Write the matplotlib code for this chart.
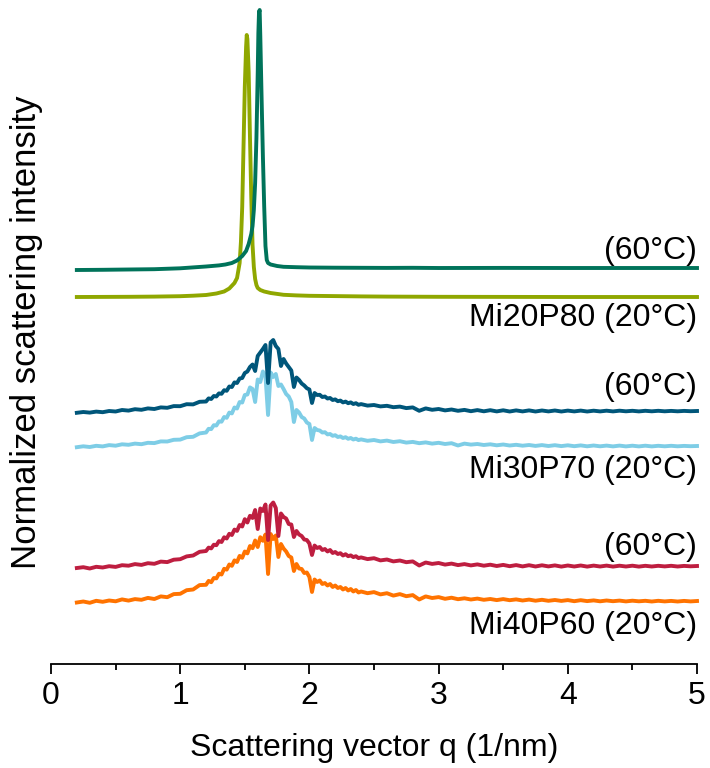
import numpy as np
import matplotlib
matplotlib.use("Agg")
import matplotlib.pyplot as plt
from matplotlib.ticker import MultipleLocator

plt.rcParams['font.family'] = ['Liberation Sans', 'DejaVu Sans']

# ---------------- data ----------------
# common q grid for the broad (noisy) curves, 1/nm
q_broad = np.round(np.concatenate([np.arange(0.20, 1.19, 0.05),
                                   np.arange(1.20, 2.39, 0.02),
                                   np.arange(2.40, 5.001, 0.05)]), 3)

# Mi40P60 20 C (orange), intensity above its own baseline (a.u.)
mi40p60_20 = [-1.5, -0.5, -1.8, 0.2, -0.8, 0.5, -0.3, 1.6, 0.4, 1.9, 1.2, 3.1, 2.0, 4.6, 3.8, 6.9, 7.2, 10.8, 11.5, 15.9,
              16.2, 20.1, 18.8, 23.0, 22.6, 27.3, 26.5, 32.2, 31.4, 36.5,
              35.2, 40.6, 39.0, 45.1, 43.2, 49.5, 47.6, 55.0, 52.8, 60.5,
              54.0, 63.8, 60.2, 66.5, 27.0, 67.0, 62.0, 65.5, 44.0, 57.0,
              52.5, 49.5, 45.0, 43.5, 30.0, 37.0, 32.5, 32.0, 28.0, 28.5,
              24.0, 9.0, 21.5, 19.0, 20.5, 17.0, 18.0, 15.5, 17.0, 14.0,
              15.5, 13.0, 14.0, 11.5, 13.0, 10.5, 12.0, 9.5, 11.0, 8.5,
              9.5, 7.8, 8.9, 6.6, 7.8, 5.4, 6.9, 4.8, 5.9, 1.5,
              4.6, 3.0, 3.9, 2.2, 3.3, 1.8, 2.7, 1.5, 2.4, 1.2,
              2.0, 0.9, 1.9, 0.8, 1.6, 0.5, 1.4, 0.3, 1.2, 0.2,
              1.0, 0.1, 0.9, -0.2, 0.8, -0.1, 0.6, -0.3, 0.5, -0.2,
              0.4, -0.4, 0.3, -0.3, 0.2, -0.5, 0.2, -0.4, 0.1, -0.5,
              0.1, -0.4, 0.0]

# Mi40P60 60 C (crimson)
mi40p60_60 = [-2.0, -1.2, -2.5, -0.8, -1.5, -0.2, -0.9, 0.8, 0.3, 1.9, 1.1, 2.8, 2.2, 4.4, 3.9, 6.3, 6.8, 9.6, 10.5, 14.2,
              15.0, 18.4, 17.6, 21.3, 20.8, 24.9, 24.0, 28.7, 27.5, 32.2,
              31.0, 36.4, 35.1, 41.0, 39.5, 46.8, 43.5, 50.2, 48.0, 56.0,
              37.0, 57.5, 55.0, 61.5, 26.0, 60.5, 63.5, 58.0, 30.0, 52.5,
              49.0, 47.5, 42.0, 41.5, 29.0, 35.0, 31.5, 30.0, 26.5, 26.0,
              22.5, 11.0, 20.5, 18.0, 19.0, 16.0, 17.0, 14.5, 16.0, 13.0,
              14.0, 12.0, 12.8, 10.5, 11.8, 9.8, 10.6, 8.9, 9.8, 7.9,
              8.6, 6.9, 7.8, 5.6, 6.5, 4.6, 5.5, 3.8, 4.6, 0.5,
              3.5, 2.1, 3.0, 1.4, 2.4, 0.9, 1.9, 0.6, 1.6, 0.3,
              1.3, 0.0, 1.1, -0.2, 0.9, -0.4, 0.8, -0.5, 0.7, -0.4,
              0.6, -0.6, 0.5, -0.5, 0.5, -0.6, 0.4, -0.5, 0.4, -0.6,
              0.3, -0.5, 0.3, -0.6, 0.2, -0.5, 0.2, -0.4, 0.2, -0.5,
              0.1, -0.3, 0.0]

# Mi30P70 20 C (light blue)
mi30p70_20 = [-1.2, -0.3, -1.0, 0.2, -0.4, 0.9, 0.3, 1.7, 1.2, 2.4, 1.8, 3.2, 2.9, 4.6, 4.5, 6.2, 6.4, 8.8, 9.2, 12.6,
              13.5, 17.2, 16.9, 20.8, 20.5, 24.6, 24.3, 29.0, 28.2, 33.4,
              32.6, 38.5, 37.5, 44.0, 43.5, 51.0, 51.5, 58.6, 57.0, 44.0,
              66.5, 64.0, 74.5, 70.0, 31.0, 73.5, 69.0, 72.0, 60.0, 61.5,
              57.0, 52.0, 49.5, 44.0, 24.0, 36.0, 33.5, 29.0, 27.5, 23.5,
              22.0, 6.0, 18.0, 16.0, 15.5, 13.5, 13.8, 11.6, 12.0, 10.2,
              10.8, 9.0, 9.6, 8.0, 8.8, 7.2, 8.0, 6.5, 7.3, 5.9,
              6.6, 5.2, 6.0, 4.6, 5.4, 4.0, 4.8, 3.4, 4.1, 2.8,
              3.6, 2.4, 3.2, 2.0, 2.8, 0.5, 2.4, 1.4, 2.0, 1.0,
              1.7, 0.7, 1.5, 0.5, 1.2, 0.3, 1.0, 0.1, 0.9, 0.0,
              0.8, -0.1, 0.7, -0.2, 0.6, -0.3, 0.5, -0.3, 0.4, -0.4,
              0.4, -0.4, 0.3, -0.4, 0.3, -0.4, 0.2, -0.3, 0.2, -0.3,
              0.1, -0.2, 0.0]

# Mi30P70 60 C (dark blue)
mi30p70_60 = [-1.8, -1.0, -1.6, -0.6, -1.2, 0.0, -0.5, 1.0, 0.4, 1.8, 1.2, 2.6, 2.0, 3.6, 3.2, 4.9, 4.8, 6.8, 6.6, 9.2,
              9.5, 12.6, 12.0, 15.0, 14.5, 17.6, 17.2, 20.8, 20.2, 24.5,
              24.0, 28.6, 28.0, 32.5, 33.0, 38.0, 39.5, 44.0, 46.5, 40.0,
              55.0, 58.5, 62.0, 66.0, 28.0, 68.5, 71.0, 65.0, 62.0, 45.0,
              52.0, 47.5, 44.0, 40.5, 24.0, 33.5, 31.0, 27.5, 25.5, 22.8,
              21.5, 8.0, 18.0, 16.0, 16.2, 14.0, 14.5, 12.5, 13.0, 11.0,
              11.6, 9.8, 10.4, 8.6, 9.4, 7.8, 8.6, 7.0, 7.8, 6.2,
              6.9, 5.4, 6.0, 4.6, 5.2, 3.8, 4.4, 2.9, 3.6, 0.2,
              2.6, 1.2, 2.0, 0.6, 1.5, 0.2, 1.1, -0.2, 0.9, -0.3,
              0.8, -0.4, 0.7, -0.5, 0.6, -0.4, 0.6, -0.5, 0.5, -0.4,
              0.5, -0.5, 0.4, -0.4, 0.4, -0.5, 0.3, -0.4, 0.3, -0.4,
              0.3, -0.3, 0.2, -0.4, 0.2, -0.3, 0.2, -0.3, 0.1, -0.3,
              0.1, -0.2, 0.0]

# Mi20P80 20 C (olive), sharp Bragg peak
q_mi20p80_20 = [0.20, 0.40, 0.60, 0.80, 1.00, 1.10, 1.20, 1.28, 1.34, 1.38,
                1.42, 1.44, 1.46, 1.47, 1.48, 1.49, 1.50, 1.51, 1.515, 1.52,
                1.53, 1.54, 1.55, 1.56, 1.57, 1.58, 1.59, 1.60, 1.62, 1.65,
                1.70, 1.80, 1.90, 2.00, 2.20, 2.40, 2.60, 2.80, 3.00, 3.50,
                4.00, 4.50, 5.00]
mi20p80_20 = [0.0, 0.1, 0.2, 0.4, 0.8, 1.3, 2.0, 3.5, 5.5, 8.5,
              14.0, 19.0, 34.0, 55.0, 90.0, 150.0, 210.0, 250.0, 262.0, 258.0,
              225.0, 160.0, 100.0, 52.0, 30.0, 18.0, 12.0, 9.0, 7.0, 5.5,
              4.0, 2.2, 1.6, 1.2, 0.9, 0.6, 0.4, 0.3, 0.2, 0.1,
              0.0, 0.0, 0.0]

# Mi20P80 60 C (dark green)
q_mi20p80_60 = [0.20, 0.40, 0.60, 0.80, 1.00, 1.10, 1.20, 1.30, 1.35, 1.40,
                1.44, 1.48, 1.51, 1.53, 1.55, 1.56, 1.57, 1.58, 1.59, 1.60,
                1.605, 1.61, 1.615, 1.62, 1.63, 1.64, 1.65, 1.66, 1.67, 1.68,
                1.70, 1.75, 1.80, 1.90, 2.00, 2.20, 2.40, 2.60, 2.80, 3.00,
                3.50, 4.00, 4.50, 5.00]
mi20p80_60 = [-2.0, -1.8, -1.5, -1.2, -0.3, 0.6, 1.5, 2.6, 3.5, 5.0,
              7.5, 12.0, 17.0, 24.0, 34.0, 42.0, 58.0, 85.0, 130.0, 195.0,
              235.0, 256.0, 258.0, 232.0, 170.0, 112.0, 62.0, 22.0, 8.0, 5.0,
              3.5, 2.0, 1.2, 0.8, 0.5, 0.3, 0.2, 0.1, 0.2, 0.0,
              0.1, 0.0, 0.0, 0.0]

# vertical stacking offsets (a.u.)
offsets = {"mi40p60_20": 63, "mi40p60_60": 98, "mi30p70_20": 218,
           "mi30p70_60": 253, "mi20p80_20": 367, "mi20p80_60": 396}

labels = ["Mi40P60 (20°C)", "(60°C)", "Mi30P70 (20°C)", "(60°C)", "Mi20P80 (20°C)", "(60°C)"]

# ---------------- styling ----------------
colors = {"mi40p60_20": "#FF7300", "mi40p60_60": "#BE1E40", "mi30p70_20": "#7ECDE6",
          "mi30p70_60": "#00567A", "mi20p80_20": "#8FA700", "mi20p80_60": "#00735A"}
label_y = [38, 117, 194, 277, 346, 413]

fig = plt.figure(figsize=(7.10, 7.68), dpi=100)
ax = fig.add_axes([51 / 710, 1 - 664 / 768, 646 / 710, 664 / 768])

series = [
    ("mi40p60_20", q_broad, mi40p60_20),
    ("mi40p60_60", q_broad, mi40p60_60),
    ("mi30p70_20", q_broad, mi30p70_20),
    ("mi30p70_60", q_broad, mi30p70_60),
    ("mi20p80_20", q_mi20p80_20, mi20p80_20),
    ("mi20p80_60", q_mi20p80_60, mi20p80_60),
]
for key, qq, ii in series:
    ax.plot(qq, np.asarray(ii) + offsets[key], color=colors[key], lw=2.8,
            solid_joinstyle='round', clip_on=False)

for txt, y in zip(labels, label_y):
    ax.text(5.0, y, txt, ha='right', va='center', fontsize=23, color='black')

ax.set_xlim(0, 5)
ax.set_ylim(0, 664)
for s in ['left', 'right', 'top']:
    ax.spines[s].set_visible(False)
ax.spines['bottom'].set_linewidth(1.3)
ax.set_yticks([])
ax.xaxis.set_major_locator(MultipleLocator(1))
ax.xaxis.set_minor_locator(MultipleLocator(0.5))
ax.tick_params(axis='x', which='major', length=7.2, width=1.3, labelsize=23, pad=5, direction='out')
ax.tick_params(axis='x', which='minor', length=4.0, width=1.3, direction='out')

ax.set_xlabel("Scattering vector q (1/nm)", fontsize=23)
ax.xaxis.set_label_coords(0.5, -(733 - 664) / 664)
ax.set_ylabel("Normalized scattering intensity", fontsize=25, labelpad=6)

fig.savefig("out.png", dpi=100)
